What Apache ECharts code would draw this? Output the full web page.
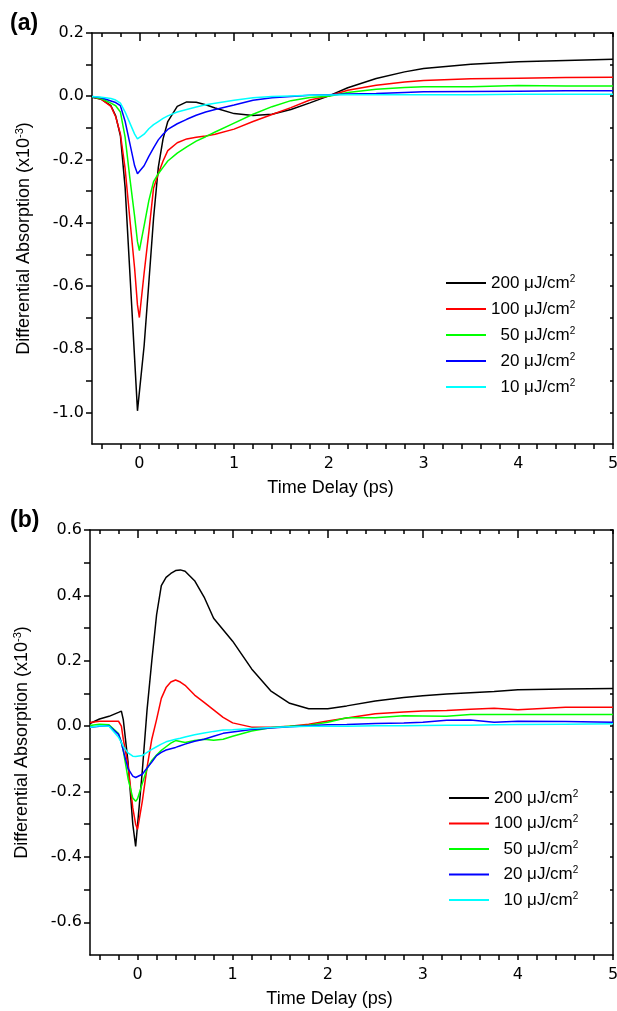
<!DOCTYPE html>
<html>
<head>
<meta charset="utf-8">
<script src="https://cdn.jsdelivr.net/npm/echarts@6/dist/echarts.min.js"></script>
<style>
  html, body { margin: 0; padding: 0; background: #fff; }
  #chart { width: 617px; height: 1011px; }
</style>
</head>
<body>
<div id="chart"></div>
<script>
  // 图例（激发通量，µJ/cm2）
  var fluences = ['200', '100', '50', '20', '10']
  var colors = ['#000000', '#ff0000', '#00ff00', '#0000ff', '#00ffff']

  // (a) 时间延迟 ps
  var timeA = [-0.5, -0.4, -0.3, -0.25, -0.2, -0.15, -0.1, -0.05, -0.02, 0,
    0.05, 0.1, 0.15, 0.2, 0.25, 0.3, 0.4, 0.5, 0.6, 0.7,
    0.8, 1.0, 1.2, 1.4, 1.6, 1.8, 2.0, 2.2, 2.5, 2.8,
    3.0, 3.5, 4.0, 4.5, 5.0]
  var a200 = [-0.003, -0.01, -0.03, -0.062, -0.125, -0.29, -0.56, -0.83, -0.995, -0.99,
    -0.79, -0.59, -0.385, -0.225, -0.135, -0.08, -0.032, -0.018, -0.019, -0.027,
    -0.037, -0.055, -0.061, -0.057, -0.042, -0.021, 0.001, 0.027, 0.056, 0.077,
    0.088, 0.101, 0.109, 0.113, 0.117]
  var a100 = [-0.002, -0.01, -0.032, -0.065, -0.12, -0.23, -0.39, -0.545, -0.66, -0.70,
    -0.56, -0.43, -0.29, -0.245, -0.205, -0.172, -0.147, -0.135, -0.13, -0.126,
    -0.12, -0.104, -0.08, -0.058, -0.036, -0.012, 0.001, 0.019, 0.035, 0.045,
    0.05, 0.055, 0.057, 0.059, 0.06]
  var a50 = [-0.002, -0.008, -0.022, -0.03, -0.05, -0.13, -0.26, -0.38, -0.46, -0.488,
    -0.41, -0.33, -0.27, -0.245, -0.225, -0.205, -0.18, -0.16, -0.142, -0.128,
    -0.113, -0.085, -0.057, -0.033, -0.014, -0.004, 0.0, 0.012, 0.022, 0.028,
    0.03, 0.03, 0.034, 0.032, 0.032]
  var a20 = [-0.001, -0.005, -0.015, -0.02, -0.03, -0.08, -0.15, -0.22, -0.245, -0.244,
    -0.22, -0.19, -0.163, -0.138, -0.12, -0.105, -0.087, -0.073, -0.06, -0.05,
    -0.042, -0.028, -0.013, -0.005, -0.001, 0.003, 0.005, 0.007, 0.009, 0.012,
    0.014, 0.015, 0.016, 0.017, 0.017]
  var a10 = [-0.001, -0.003, -0.007, -0.012, -0.022, -0.05, -0.085, -0.12, -0.135, -0.136,
    -0.12, -0.103, -0.09, -0.08, -0.07, -0.062, -0.05, -0.042, -0.034, -0.027,
    -0.022, -0.013, -0.005, -0.001, 0.001, 0.003, 0.004, 0.005, 0.005, 0.005,
    0.005, 0.005, 0.006, 0.006, 0.006]

  // (b) 时间延迟 ps
  var timeB = [-0.5, -0.4, -0.3, -0.2, -0.17, -0.15, -0.1, -0.05, -0.02, 0,
    0.05, 0.1, 0.15, 0.2, 0.25, 0.3, 0.35, 0.4, 0.45, 0.5,
    0.6, 0.7, 0.8, 0.9, 1.0, 1.2, 1.4, 1.6, 1.8, 2.0,
    2.2, 2.5, 2.8, 3.0, 3.25, 3.5, 3.75, 4.0, 4.5, 5.0]
  var b200 = [0.008, 0.022, 0.03, 0.042, 0.046, 0.02, -0.11, -0.30, -0.368, -0.367,
    -0.137, 0.05, 0.2, 0.34, 0.43, 0.455, 0.467, 0.476, 0.478, 0.474,
    0.445, 0.395, 0.33, 0.295, 0.26, 0.175, 0.108, 0.07, 0.053, 0.053,
    0.062, 0.077, 0.088, 0.093, 0.098, 0.102, 0.106, 0.111, 0.114, 0.115]
  var b100 = [0.011, 0.015, 0.015, 0.015, 0.0, -0.04, -0.12, -0.25, -0.3, -0.316,
    -0.23, -0.126, -0.04, 0.02, 0.085, 0.118, 0.135, 0.141, 0.135, 0.125,
    0.095, 0.073, 0.05, 0.027, 0.01, -0.003, -0.003, 0.0, 0.006, 0.016,
    0.025, 0.038, 0.043, 0.046, 0.048, 0.052, 0.055, 0.05, 0.058, 0.058]
  var b50 = [0.002, 0.006, 0.004, -0.023, -0.05, -0.075, -0.16, -0.22, -0.23, -0.222,
    -0.175, -0.13, -0.105, -0.088, -0.074, -0.063, -0.052, -0.044, -0.047, -0.05,
    -0.044, -0.04, -0.043, -0.04, -0.031, -0.015, -0.005, 0.0, 0.003, 0.012,
    0.026, 0.026, 0.032, 0.031, 0.03, 0.036, 0.036, 0.036, 0.036, 0.036]
  var b20 = [-0.003, 0.0, 0.001, -0.025, -0.05, -0.075, -0.13, -0.153, -0.157, -0.155,
    -0.147, -0.128, -0.11, -0.09, -0.08, -0.073, -0.069, -0.065, -0.06, -0.055,
    -0.046, -0.04, -0.031, -0.022, -0.018, -0.01, -0.006, -0.002, 0.001, 0.004,
    0.005, 0.008, 0.01, 0.012, 0.018, 0.019, 0.012, 0.015, 0.014, 0.012]
  var b10 = [-0.003, 0.001, 0.0, -0.034, -0.05, -0.062, -0.082, -0.092, -0.093, -0.092,
    -0.09, -0.08, -0.071, -0.063, -0.055, -0.048, -0.044, -0.04, -0.037, -0.033,
    -0.026, -0.021, -0.016, -0.012, -0.011, -0.007, -0.004, -0.002, 0.0, 0.0,
    0.0, 0.001, 0.001, 0.002, 0.003, 0.003, 0.004, 0.005, 0.006, 0.007]

  // 刻度
  var xTicks = [-0.4, -0.2, 0, 0.2, 0.4, 0.6, 0.8, 1, 1.2, 1.4, 1.6, 1.8, 2, 2.2, 2.4, 2.6, 2.8,
    3, 3.2, 3.4, 3.6, 3.8, 4, 4.2, 4.4, 4.6, 4.8, 5]
  var xLabels = [0, 1, 2, 3, 4, 5]
  var yTicksA = [-1.0, -0.9, -0.8, -0.7, -0.6, -0.5, -0.4, -0.3, -0.2, -0.1, 0, 0.1, 0.2]
  var yLabelsA = [-1.0, -0.8, -0.6, -0.4, -0.2, 0, 0.2]
  var yTicksB = [-0.6, -0.5, -0.4, -0.3, -0.2, -0.1, 0, 0.1, 0.2, 0.3, 0.4, 0.5, 0.6]
  var yLabelsB = [-0.6, -0.4, -0.2, 0, 0.2, 0.4, 0.6]

  var font = 'Liberation Sans, Arial, sans-serif'
  var axisColor = '#000'

  function pairs(t, v) {
    return t.map(function(x, i) { return [x, v[i]] })
  }

  let chart = echarts.init(document.getElementById('chart'))

  let grids = []
  let xAxes = []
  let yAxes = []
  let series = []
  let legends = []

  function addPanel(p) {
    let g = grids.length
    let xi = xAxes.length
    let yi = yAxes.length
    grids.push({ left: p.left, top: p.top, right: 4, height: p.height, outerBoundsMode: 'none', containLabel: false })
    grids.push({ left: p.left, top: p.top, right: 4, height: p.height, outerBoundsMode: 'none', containLabel: false })
    let lineStyle = { color: axisColor, width: 1.5 }
    // 下方 x 轴
    xAxes.push({
      gridIndex: g, type: 'value', position: 'bottom', min: -0.5, max: 5,
      axisLine: { show: true, onZero: false, lineStyle: lineStyle },
      axisTick: { show: true, inside: false, length: 5, customValues: xTicks, lineStyle: lineStyle },
      axisLabel: { customValues: xLabels, margin: 12, color: '#000', fontSize: 16, fontFamily: 'DejaVu Sans' },
      splitLine: { show: false },
      name: 'Time Delay (ps)', nameLocation: 'middle', nameGap: 35,
      nameTextStyle: { fontSize: 18, fontFamily: font, color: '#000', padding: [0, 44, 0, 0] }
    })
    // 上方 x 轴 小刻度
    xAxes.push({
      gridIndex: g, type: 'value', position: 'top', min: -0.5, max: 5,
      axisLine: { show: true, onZero: false, lineStyle: lineStyle },
      axisTick: { show: true, inside: true, length: 4, customValues: xTicks, lineStyle: lineStyle },
      axisLabel: { show: false },
      splitLine: { show: false }
    })
    // 上方 x 轴 大刻度
    xAxes.push({
      gridIndex: g + 1, type: 'value', position: 'top', min: -0.5, max: 5,
      axisLine: { show: false, onZero: false },
      axisTick: { show: true, inside: true, length: 8, customValues: xLabels.slice(0, 5), lineStyle: lineStyle },
      axisLabel: { show: false },
      splitLine: { show: false }
    })
    yAxes.push({
      gridIndex: g, type: 'value', position: 'left', min: p.yMin, max: p.yMax,
      axisLine: { show: true, onZero: false, lineStyle: lineStyle },
      axisTick: { show: true, inside: false, length: 6, customValues: p.yTicks, lineStyle: lineStyle },
      axisLabel: {
        customValues: p.yLabels, margin: 8, color: '#000', fontSize: 16, fontFamily: 'DejaVu Sans',
        formatter: function(v) { return v.toFixed(1) }
      },
      splitLine: { show: false },
      name: 'Differential Absorption (x10{s|-3})', nameLocation: 'middle', nameRotate: 90, nameGap: 58,
      nameTextStyle: {
        fontSize: 18, fontFamily: font, color: '#000', lineHeight: 20,
        rich: { s: { fontSize: 11, fontFamily: font, color: '#000', lineHeight: 11, verticalAlign: 'top' } }
      }
    })
    yAxes.push({
      gridIndex: g, type: 'value', position: 'right', min: p.yMin, max: p.yMax,
      axisLine: { show: true, onZero: false, lineStyle: lineStyle },
      axisTick: { show: true, inside: true, length: 3, customValues: p.yTicks, lineStyle: lineStyle },
      axisLabel: { show: false },
      splitLine: { show: false }
    })
    yAxes.push({ gridIndex: g + 1, type: 'value', show: false, min: p.yMin, max: p.yMax })

    p.data.forEach(function(v, k) {
      series.push({
        name: fluences[k],
        type: 'line',
        xAxisIndex: xi,
        yAxisIndex: yi,
        data: pairs(p.time, v),
        showSymbol: false,
        symbol: 'none',
        color: colors[k],
        lineStyle: { color: colors[k], width: 1.5 },
        animation: false
      })
    })

    legends.push({
      data: fluences,
      orient: 'vertical',
      left: p.legendLeft,
      top: p.legendTop,
      padding: 0,
      icon: 'rect',
      itemWidth: 40,
      itemHeight: 2,
      itemGap: p.legendGap,
      selectedMode: false,
      formatter: function(name) {
        // 两位数前补数字宽度空格，使数字右对齐
        let pad = name.length < 3 ? '\u2007' : ''
        return '{u|' + pad + name + ' \u03bcJ/cm}{s|2}'
      },
      textStyle: {
        color: '#000',
        rich: {
          u: { fontSize: 17, fontFamily: font, color: '#000', lineHeight: 18 },
          s: { fontSize: 10, fontFamily: font, color: '#000', lineHeight: 10, verticalAlign: 'top' }
        }
      }
    })
  }

  addPanel({
    left: 92, top: 33, height: 411, yMin: -1.1, yMax: 0.2,
    yTicks: yTicksA, yLabels: yLabelsA, time: timeA,
    data: [a200, a100, a50, a20, a10], legendLeft: 446, legendTop: 274, legendGap: 8.5
  })
  addPanel({
    left: 90, top: 530, height: 425, yMin: -0.7, yMax: 0.6,
    yTicks: yTicksB, yLabels: yLabelsB, time: timeB,
    data: [b200, b100, b50, b20, b10], legendLeft: 449, legendTop: 789, legendGap: 8
  })

  let option = {
    backgroundColor: '#fff',
    animation: false,
    grid: grids,
    xAxis: xAxes,
    yAxis: yAxes,
    legend: legends,
    series: series,
    graphic: [
      { type: 'text', left: 10, top: 12, style: { text: '(a)', font: 'bold 23px ' + font, fill: '#000' } },
      { type: 'text', left: 10, top: 509, style: { text: '(b)', font: 'bold 23px ' + font, fill: '#000' } }
    ]
  }
  chart.setOption(option, true)
</script>
</body>
</html>
